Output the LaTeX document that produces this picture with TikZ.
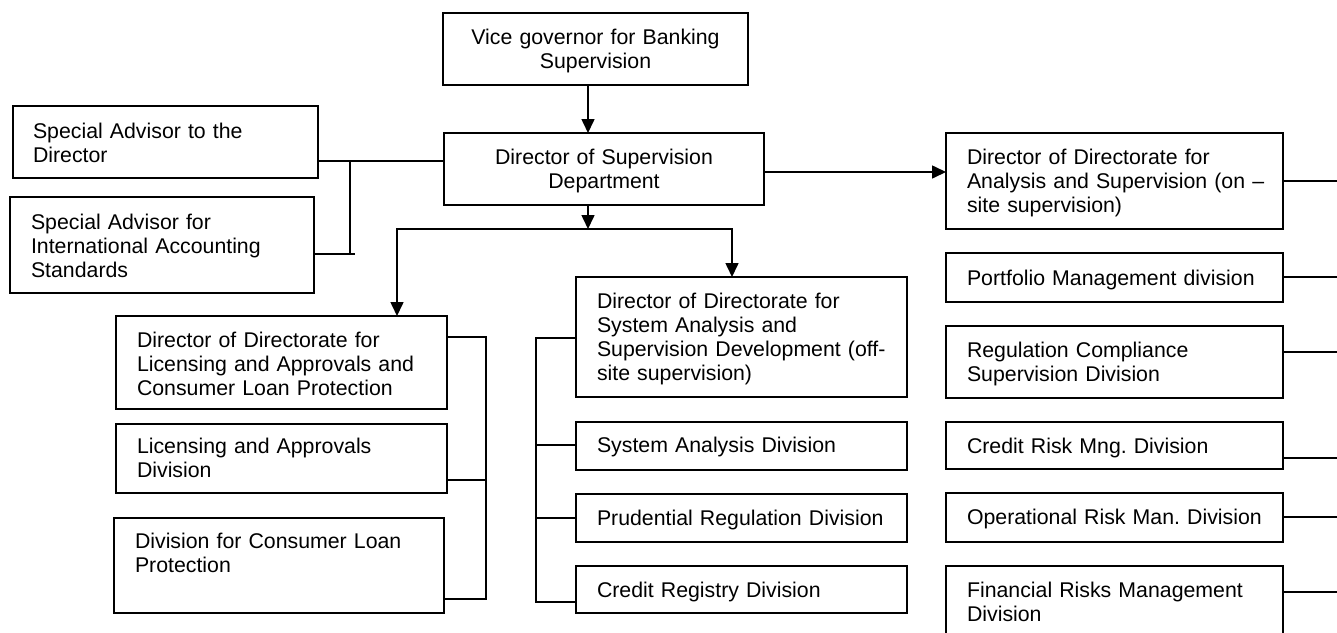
\documentclass[tikz,border=0pt]{standalone}
\usepackage{fontspec}
\setmainfont{Liberation Sans}
\usetikzlibrary{arrows.meta}
\frenchspacing
% box given by its corners: name, x1, y1, x2, y2 (y grows downward)
\newcommand\orgbox[5]{%
  \node[boxst, anchor=north west, minimum width={#4-#2}, minimum height={#5-#3}] (#1) at (#2,#3) {};}
\begin{document}
\begin{tikzpicture}[x=1pt, y=-1pt,
  boxst/.style={draw, line width=1.6pt, inner sep=0pt, outer sep=0pt},
  lbl/.style={inner sep=0pt, outer sep=0pt, anchor=base west, align=left, text width=380pt,
    font=\fontsize{21.3}{24}\selectfont\frenchspacing},
  clbl/.style={inner sep=0pt, outer sep=0pt, anchor=base, align=center, text width=320pt,
    font=\fontsize{21.3}{24}\selectfont\frenchspacing},
  wire/.style={line width=1.6pt},
  arr/.style={wire, -{Triangle[length=14pt, width=13pt]}}]
\clip (0,0) rectangle (1337,632);
\fill[white] (0,0) rectangle (1337,632);

% ---- boxes ----
\orgbox{vice}{443}{13}{748}{85}
\orgbox{dir}{444}{133}{764}{205}
\orgbox{sa1}{13}{106}{318}{178}
\orgbox{sa2}{10}{197}{314}{293}
\orgbox{lic}{116}{316}{447}{409}
\orgbox{lad}{116}{424}{447}{493}
\orgbox{cons}{114}{518}{444}{613}
\orgbox{off}{576}{277}{907}{397}
\orgbox{sad}{576}{422}{907}{470}
\orgbox{prd}{576}{494}{907}{542}
\orgbox{crd}{576}{566}{907}{613}
\orgbox{ons}{946}{133}{1283}{229}
\orgbox{pfm}{946}{253}{1283}{302}
\orgbox{rcs}{946}{326}{1283}{398}
\orgbox{crk}{946}{422}{1283}{469}
\orgbox{opr}{946}{493}{1283}{542}
\orgbox{frm}{946}{566}{1283}{660}

% ---- texts ----
\node[clbl] (vicet) at (595.5,44) {Vice governor for Banking\\Supervision};
\node[clbl] (dirt) at (604,164) {Director of Supervision\\Department};
\node[lbl] (sa1t) at (33,138) {Special Advisor to the\\Director};
\node[lbl] (sa2t) at (31,229) {Special Advisor for\\International Accounting\\Standards};
\node[lbl] (lict) at (137,347) {Director of Directorate for\\Licensing and Approvals and\\Consumer Loan Protection};
\node[lbl] (ladt) at (137,453) {Licensing and Approvals\\Division};
\node[lbl] (const) at (135,548) {Division for Consumer Loan\\Protection};
\node[lbl] (offt) at (597,308) {Director of Directorate for\\System Analysis and\\Supervision Development (off-\\site supervision)};
\node[lbl] (sadt) at (597,452) {System Analysis Division};
\node[lbl] (prdt) at (597,525) {Prudential Regulation Division};
\node[lbl] (crdt) at (597,597) {Credit Registry Division};
\node[lbl] (onst) at (967,164) {Director of Directorate for\\Analysis and Supervision (on –\\site supervision)};
\node[lbl] (pfmt) at (967,285) {Portfolio Management division};
\node[lbl] (rcst) at (967,357) {Regulation Compliance\\Supervision Division};
\node[lbl] (crkt) at (967,453) {Credit Risk Mng. Division};
\node[lbl] (oprt) at (967,524) {Operational Risk Man. Division};
\node[lbl] (frmt) at (967,597) {Financial Risks Management\\Division};

% ---- connector points ----
\coordinate (vx) at (588,0);
\coordinate (split) at (588,229);
\coordinate (sl) at (397,0);
\coordinate (sr) at (732,0);
\coordinate (ay) at (0,172);
\coordinate (sj) at (350,161);
\coordinate (sb) at (350,254);
\coordinate (sbx) at (355,254);
\coordinate (lb1) at (486,337);
\coordinate (lbm) at (485,480);
\coordinate (lb2) at (486,599);
\coordinate (mb1) at (536,338);
\coordinate (mb2) at (536,445);
\coordinate (mb3) at (536,518);
\coordinate (mb4) at (536,602);
\coordinate (e1) at (1337,181);
\coordinate (e2) at (1337,277);
\coordinate (e3) at (1337,352);
\coordinate (e4) at (1337,458);
\coordinate (e5) at (1337,517);
\coordinate (e6) at (1337,592);

% ---- connectors ----
\draw[arr] (vice.south -| vx) -- (dir.north -| vx);
\draw[arr] (dir.south -| vx) -- (split);
\draw[arr] (split) -| (lic.north -| sl);
\draw[arr] (split) -| (off.north -| sr);
\draw[arr] (dir.east |- ay) -- (ons.west |- ay);

\draw[wire] (sa1.east |- sj) -- (dir.west |- sj);
\draw[wire] (sj) -- (sb);
\draw[wire] (sa2.east |- sb) -- (sbx);

\draw[wire] (lic.east |- lb1) -- (lb1) -- (lb2) -- (cons.east |- lb2);
\draw[wire] (lad.east |- lbm) -- (lbm);

\draw[wire] (off.west |- mb1) -- (mb1) -- (mb4) -- (crd.west |- mb4);
\draw[wire] (sad.west |- mb2) -- (mb2);
\draw[wire] (prd.west |- mb3) -- (mb3);

\draw[wire] (ons.east |- e1) -- (e1);
\draw[wire] (pfm.east |- e2) -- (e2);
\draw[wire] (rcs.east |- e3) -- (e3);
\draw[wire] (crk.east |- e4) -- (e4);
\draw[wire] (opr.east |- e5) -- (e5);
\draw[wire] (frm.east |- e6) -- (e6);
\end{tikzpicture}
\end{document}
